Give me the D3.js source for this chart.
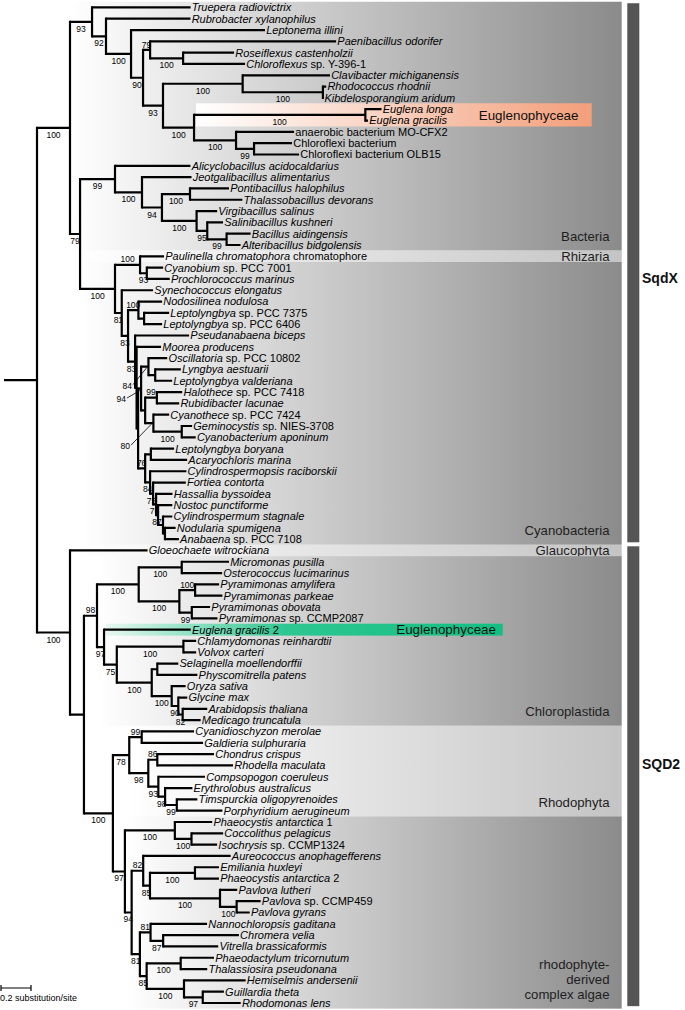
<!DOCTYPE html>
<html><head><meta charset="utf-8">
<script src="https://cdn.jsdelivr.net/npm/d3@7"></script>
<style>
body{margin:0;background:#fff}
svg{display:block}
text{font-family:"Liberation Sans",Arial,Helvetica,sans-serif;white-space:pre}
</style>
</head><body>
<svg id="chart" width="685" height="1010"></svg>
<script>
// ---------------- DATA ----------------
// Tree (Newick): leaf names, support values as internal labels, branch lengths in substitutions/site.
// Suffix on a support value: ^ = label above branch, < = label with leader line.
const cyanoNewick = `(
 ('Paulinella chromatophora chromatophore':0.16,('Cyanobium sp. PCC 7001':0.109,'Prochlorococcus marinus':0.153)93:0.045)100^:0.167,
 ('Synechococcus elongatus':0.209,
  (('Nodosilinea nodulosa':0.158,('Leptolyngbya sp. PCC 7375':0.167,'Leptolyngbya sp. PCC 6406':0.12):0.038)100^:0.069,
   ('Pseudanabaena biceps':0.36,
    ('Moorea producens':0.163,
     (
      (('Oscillatoria sp. PCC 10802':0.125,('Lyngbya aestuarii':0.171,'Leptolyngbya valderiana':0.113):0.045)84<:0.049,
       (('Halothece sp. PCC 7418':0.169,'Rubidibacter lacunae':0.149)99^:0.078,
        ('Cyanothece sp. PCC 7424':0.105,('Geminocystis sp. NIES-3708':0.069,'Cyanobacterium aponinum':0.093)100:0.189)80<:0.055
       ):0.027
      )94<:0.02,
      (('Leptolyngbya boryana':0.155,'Acaryochloris marina':0.242):0.038,
       ('Cylindrospermopsis raciborskii':0.242,
        ('Fortiea contorta':0.218,
         ('Hassallia byssoidea':0.109,
          ('Nostoc punctiforme':0.095,
           ('Cylindrospermum stagnale':0.062,('Nodularia spumigena':0.071,'Anabaena sp. PCC 7108':0.093):0.013):0.033
          )87:0.013
         )76:0.02
        )75:0.02
       )84:0.033
      )76^:0.047
     ):0.01
    ):0.01
   )83:0.047
  )83:0.042
 )81:0.045
)100:0.233`;

const sqdxNewick = `(
 ('Truepera radiovictrix':0.657,
  ('Rubrobacter xylanophilus':0.563,
   ('Leptonema illini':0.893,
    (('Paenibacillus odorifer':1.24,('Roseiflexus castenholzii':0.34,'Chloroflexus sp. Y-396-1':0.413)100:0.22)79^:0.047,
     (('Clavibacter michiganensis':0.582,('Rhodococcus rhodnii':0.022,'Kibdelosporangium aridum':0.002)100:0.535)100:0.531,
      (('Euglena longa':0.108,'Euglena gracilis':0.018)100:1.142,
       ('anaerobic bacterium MO-CFX2':0.387,('Chloroflexi bacterium':0.253,'Chloroflexi bacterium OLB15':0.3)99:0.12)100:0.28
      )100:0.207
     )93:0.133
    )90:0.08
   )100:0.167
  )92:0.093
 )93:0.147,
 (
  ('Alicyclobacillus acidocaldarius':0.503,
   ('Jeotgalibacillus alimentarius':0.33,
    (('Pontibacillus halophilus':0.26,'Thalassobacillus devorans':0.349)100:0.187,
     ('Virgibacillus salinus':0.137,
      ('Salinibacillus kushneri':0.105,('Bacillus aidingensis':0.16,'Alteribacillus bidgolensis':0.093)99:0.129)95:0.071
     )100:0.231
    )94:0.133
   )100:0.18
  )99:0.233,
  ${cyanoNewick}
 )79:0.067
)100:0.22`;

const sqd2Newick = `(
 'Gloeochaete witrockiana':0.517,
 (
  (
   ((('Micromonas pusilla':0.315,'Osterococcus lucimarinus':0.269)100:0.287,
     (('Pyramimonas amylifera':0.16,'Pyramimonas parkeae':0.182)100^:0.105,
      ('Pyramimonas obovata':0.122,'Pyramimonas sp. CCMP2087':0.171)99:0.083)100:0.271
    )100:0.278),
   ('Euglena gracilis 2':0.578,
    (('Chlamydomonas reinhardtii':0.085,'Volvox carteri':0.085)100:0.444,
     (('Selaginella moellendorffii':0.14,'Physcomitrella patens':0.267):0.037,
      ('Oryza sativa':0.093,('Glycine max':0.06,('Arabidopsis thaliana':0.164,'Medicago truncatula':0.12)82:0.029)90:0.044)100:0.133
     )100:0.233
    )75:0.085
   )97:0.047
  )98^:0.087,
  (
   (('Cyanidioschyzon merolae':0.349,'Galdieria sulphuraria':0.409)99^:0.083,
    (('Chondrus crispus':0.378,'Rhodella maculata':0.505)86^:0.06,
     ('Compsopogon coeruleus':0.311,
      ('Erythrolobus australicus':0.182,('Timspurckia oligopyrenoides':0.137,'Porphyridium aerugineum':0.304)99:0.078)98:0.045
     )93:0.067
    )98:0.127
   )78:0.109,
   (
    ('Phaeocystis antarctica 1':0.249,('Coccolithus pelagicus':0.211,'Isochrysis sp. CCMP1324':0.171)100:0.111)100:0.333,
    (
     ('Aureococcus anophagefferens':0.583,
      (('Emiliania huxleyi':0.16,'Phaeocystis antarctica 2':0.16)100:0.3,
       ('Pavlova lutheri':0.115,('Pavlova sp. CCMP459':0.16,'Pavlova gyrans':0.087)100:0.111)100:0.467
      )85:0.045
     )82^:0.077,
     (
      ('Nannochloropsis gaditana':0.377,('Chromera velia':0.505,'Vitrella brassicaformis':0.367)87:0.084)81^:0.071,
      (('Phaeodactylum tricornutum':0.222,'Thalassiosira pseudonana':0.177)100:0.227,
       ('Hemiselmis andersenii':0.411,('Guillardia theta':0.141,'Rhodomonas lens':0.253)97:0.125)100:0.249
      )85:0.045
     )81:0.055
    )94:0.045
   )97:0.08
  )100:0.193
 ):0.093
)100:0.22`;

const treeNewick = `(${sqdxNewick},${sqd2Newick}):0.22;`;

// Labels written entirely in roman type
const romanLabels = ["anaerobic bacterium MO-CFX2", "Chloroflexi bacterium", "Chloroflexi bacterium OLB15"];

// Shaded taxonomic groups (leaf index ranges, top to bottom)
const groupNames = ["Bacteria", "Rhizaria", "Cyanobacteria", "Glaucophyta", "Chloroplastida", "Rhodophyta", "rhodophyte-\nderived\ncomplex algae"];
const groupFirst = [0, 22, 23, 48, 49, 64, 72];
const groupLast  = [21, 22, 47, 48, 63, 71, 88];
const groupTone  = ["dark", "light", "dark", "light", "dark", "light", "dark"];
// leaf range whose common ancestor marks where each shaded band begins
const groupAnchorFirst = [0, 14, 14, 48, 49, 64, 72];
const groupAnchorLast  = [21, 47, 47, 88, 63, 71, 88];

// Highlighted Euglenophyceae sequences
const hlNames = ["Euglenophyceae", "Euglenophyceae"];
const hlFirst = [9, 55];
const hlLast  = [10, 55];
const hlColor = ["#f39f7a", "#12bf82"];

// Gene families (bars at right)
const cladeNames = ["SqdX", "SQD2"];
const cladeFirst = [0, 48];
const cladeLast  = [47, 88];

// Scale bar
const scaleBarValue = 0.2;
const scaleBarLabel = "0.2 substitution/site";

// ---------------- PARSER ----------------
function parseNewick(s) {
  let i = 0;
  const ws = () => { while (i < s.length && /\s/.test(s[i])) i++; };
  function node() {
    ws();
    const n = { children: [], label: "", length: 0 };
    if (s[i] === "(") {
      i++;
      n.children.push(node()); ws();
      while (s[i] === ",") { i++; n.children.push(node()); ws(); }
      i++; // ')'
    }
    ws();
    let lab = "";
    if (s[i] === "'") { i++; while (s[i] !== "'") lab += s[i++]; i++; }
    else { while (i < s.length && !",():;".includes(s[i]) && !/\s/.test(s[i])) lab += s[i++]; }
    n.label = lab;
    ws();
    if (s[i] === ":") {
      i++; ws(); let num = "";
      while (i < s.length && !",();".includes(s[i]) && !/\s/.test(s[i])) num += s[i++];
      n.length = +num;
    }
    ws();
    return n;
  }
  return node();
}

// ---------------- LAYOUT ----------------
const svg = d3.select("#chart");
const root = d3.hierarchy(parseNewick(treeNewick), d => d.children.length ? d.children : null);
const leaves = root.leaves();
const yScale = d3.scaleLinear().domain([0, leaves.length - 1]).range([7.4, 1003]);
const step = yScale(1) - yScale(0);
const xScale = d3.scaleLinear().domain([0, 1]).range([4, 154]);

root.eachBefore(d => { d.dist = (d.parent ? d.parent.dist : 0) + d.data.length; });
leaves.forEach((d, i) => { d.idx = i; d.py = yScale(i); });
root.eachAfter(d => {
  if (d.children) d.py = (d.children[0].py + d.children[d.children.length - 1].py) / 2;
  d.px = xScale(d.dist);
});

function mrca(a, b) {
  let n = leaves[a];
  while (n) {
    const ls = n.leaves();
    if (ls[0].idx <= a && ls[ls.length - 1].idx >= b) return n;
    n = n.parent;
  }
  return root;
}

const defs = svg.append("defs");
const panelRight = 621.7;

// ---------------- GROUP BANDS ----------------
const toneEnd = { dark: "#8b8b8b", light: "#c4c4c4" };
groupNames.forEach((name, k) => {
  const top = yScale(groupFirst[k]) - step / 2;
  const bot = yScale(groupLast[k]) + step / 2;
  const left = mrca(groupAnchorFirst[k], groupAnchorLast[k]).px;
  const gid = "grp" + k;
  const lg = defs.append("linearGradient").attr("id", gid).attr("x1", 0).attr("x2", 1).attr("y1", 0).attr("y2", 0);
  lg.append("stop").attr("offset", 0).attr("stop-color", "#ffffff");
  lg.append("stop").attr("offset", 1).attr("stop-color", toneEnd[groupTone[k]]);
  svg.append("rect").attr("x", left).attr("y", top).attr("width", panelRight - left).attr("height", bot - top)
    .attr("fill", `url(#${gid})`);
  const lines = name.split("\n");
  const single = groupFirst[k] === groupLast[k];
  const lastBase = single ? (top + bot) / 2 + 4.6 : bot - 9.5;
  const t = svg.append("text").attr("text-anchor", "end").attr("font-size", 13.2).attr("fill", "#1e1e1e");
  lines.forEach((ln, j) => {
    t.append("tspan").attr("x", 609.5).attr("y", lastBase - (lines.length - 1 - j) * 15.3).text(ln);
  });
});

// ---------------- HIGHLIGHTS ----------------
const hlRight = [591.7, 502.7];
const hlTextEnd = [578.5, 496];
hlNames.forEach((name, k) => {
  const top = yScale(hlFirst[k]) - step / 2 - 0.3;
  const bot = yScale(hlLast[k]) + step / 2 + 0.3;
  const left = mrca(hlFirst[k], hlLast[k]).parent.px + 2;
  const gid = "hl" + k;
  const lg = defs.append("linearGradient").attr("id", gid).attr("x1", 0).attr("x2", 1).attr("y1", 0).attr("y2", 0);
  const c = d3.color(hlColor[k]);
  if (k === 0) {
    lg.append("stop").attr("offset", 0).attr("stop-color", "#ffffff");
    lg.append("stop").attr("offset", 0.55).attr("stop-color", d3.interpolateRgb("#ffffff", c)(0.55));
    lg.append("stop").attr("offset", 1).attr("stop-color", c);
  } else {
    lg.append("stop").attr("offset", 0).attr("stop-color", "#e8f8f1");
    lg.append("stop").attr("offset", 0.45).attr("stop-color", d3.interpolateRgb("#ffffff", c)(0.88));
    lg.append("stop").attr("offset", 1).attr("stop-color", c);
  }
  svg.append("rect").attr("x", left).attr("y", top).attr("width", hlRight[k] - left).attr("height", bot - top)
    .attr("fill", `url(#${gid})`);
  svg.append("text").attr("x", hlTextEnd[k]).attr("y", (top + bot) / 2 + 4.8).attr("text-anchor", "end")
    .attr("font-size", 13.4).attr("fill", "#111").text(name);
});

// ---------------- TREE ----------------
let hPath = `M${xScale(0)},${root.py}H${root.px}`;
let vPath = "";
root.each(d => {
  if (d.parent) hPath += `M${d.parent.px},${d.py}H${d.px}`;
  if (d.children) vPath += `M${d.px},${d.children[0].py}V${d.children[d.children.length - 1].py}`;
});
svg.append("path").attr("d", hPath).attr("fill", "none").attr("stroke", "#000").attr("stroke-width", 2.2).attr("stroke-linecap", "butt");
svg.append("path").attr("d", vPath).attr("fill", "none").attr("stroke", "#000").attr("stroke-width", 2.2).attr("stroke-linecap", "square");

// leaf labels
leaves.forEach(d => {
  const name = d.data.label;
  const t = svg.append("text").attr("x", d.px + 1.2).attr("y", d.py + 3.9).attr("font-size", 11).attr("fill", "#000");
  if (romanLabels.includes(name)) { t.text(name); return; }
  const w = name.split(" ");
  const n = w[1] === "sp." ? 1 : 2;
  t.append("tspan").attr("font-style", "italic").text(w.slice(0, n).join(" "));
  if (w.length > n) t.append("tspan").text(" " + w.slice(n).join(" "));
});

// support values
const leaderDy = [13.5, 22, 26];
const leaderEnd = [126, 132, 130];
let leaderK = 0;
root.eachBefore(d => {
  if (!d.children || !d.parent || !d.data.label) return;
  const val = d.data.label.replace(/[^0-9]/g, "");
  const mode = d.data.label.includes("^") ? "above" : d.data.label.includes("<") ? "leader" : "below";
  const mx = (d.parent.px + d.px) / 2;
  if (mode === "leader") {
    const tx = leaderEnd[leaderK], ty = d.py + leaderDy[leaderK];
    leaderK++;
    svg.append("line").attr("x1", tx + 1).attr("y1", ty - 4).attr("x2", mx + 2).attr("y2", d.py + 1)
      .attr("stroke", "#000").attr("stroke-width", 0.8);
    svg.append("text").attr("x", tx).attr("y", ty).attr("text-anchor", "end").attr("font-size", 8.5).text(val);
  } else {
    svg.append("text").attr("x", mx).attr("y", mode === "above" ? d.py - 2.3 : d.py + 10)
      .attr("text-anchor", "middle").attr("font-size", 8.5).text(val);
  }
});

// ---------------- CLADE BARS ----------------
const barTune = [5, -12];
cladeNames.forEach((name, k) => {
  const top = yScale(cladeFirst[k]) - step / 2 + 1.5;
  const bot = yScale(cladeLast[k]) + step / 2 - 2.5;
  svg.append("rect").attr("x", 627.3).attr("y", top).attr("width", 12).attr("height", bot - top).attr("fill", "#555555");
  svg.append("text").attr("x", 642).attr("y", (top + bot) / 2 + barTune[k] + 5).attr("font-size", 14)
    .attr("font-weight", "bold").attr("fill", "#111").text(name);
});

// ---------------- SCALE BAR ----------------
const sbLen = xScale(scaleBarValue) - xScale(0);
const sbY = 988;
svg.append("path").attr("d", `M1,${sbY}H${1 + sbLen}M1,${sbY - 3}V${sbY + 3}M${1 + sbLen},${sbY - 3}V${sbY + 3}`)
  .attr("stroke", "#000").attr("stroke-width", 1.2).attr("fill", "none");
svg.append("text").attr("x", 0).attr("y", sbY + 12.5).attr("font-size", 9).text(scaleBarLabel);
</script>
</body></html>
